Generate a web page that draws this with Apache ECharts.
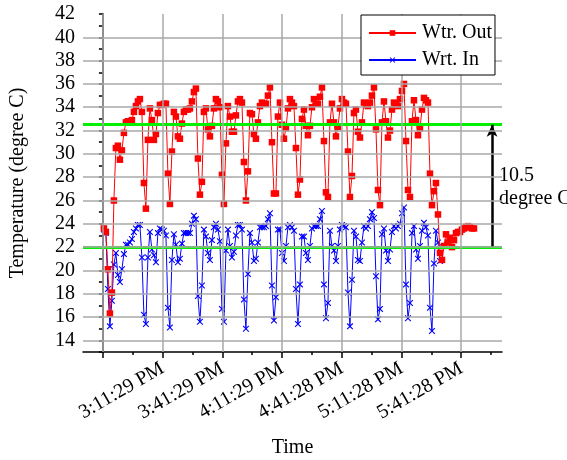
<!DOCTYPE html>
<html>
<head>
<meta charset="utf-8">
<script src="https://cdn.jsdelivr.net/npm/echarts@6/dist/echarts.min.js"></script>
<style>
html,body{margin:0;padding:0;background:#fff;}
#chart{width:567px;height:460px;}
</style>
</head>
<body>
<div id="chart"></div>
<script>
// sample times in minutes after 2:41:29 PM (logger, ~1 min step)
var startMin = 0.5;
var stepMin = 1.005;

var wtrOut = [
  23.6, 23.3, 20.1, 16.3, 18.1, 26.0, 30.5, 30.7, 29.5, 30.3,
  31.8, 32.7, 32.8, 32.8, 32.9, 33.6, 34.1, 34.5, 34.7, 33.6,
  27.5, 25.3, 31.2, 33.9, 32.9, 31.2, 31.7, 33.5, 34.2, 34.2,
  34.3, 34.3, 28.3, 25.7, 30.2, 33.6, 33.2, 31.5, 31.3, 32.6,
  33.6, 33.8, 33.8, 33.9, 34.5, 35.3, 35.6, 29.6, 26.5, 27.6,
  33.6, 33.9, 32.1, 31.5, 32.4, 33.9, 34.7, 34.5, 34.0, 28.2,
  25.7, 30.9, 34.1, 33.2, 31.9, 31.9, 33.3, 34.5, 34.7, 34.4,
  29.3, 26.0, 28.5, 33.5, 33.4, 31.7, 31.3, 32.7, 34.1, 34.4,
  34.3, 34.3, 35.0, 35.7, 31.0, 26.6, 26.6, 33.2, 34.4, 32.5,
  31.3, 32.2, 33.9, 34.7, 34.4, 34.1, 30.5, 26.5, 27.8, 33.0,
  33.8, 32.4, 31.6, 32.4, 34.0, 34.7, 34.3, 34.3, 34.9, 35.7,
  31.1, 26.7, 26.3, 32.7, 34.3, 32.7, 31.5, 32.3, 33.9, 34.7,
  34.4, 34.3, 30.2, 26.3, 28.1, 33.5, 33.8, 31.9, 31.4, 32.7,
  34.4, 34.2, 34.1, 34.4, 35.0, 35.7, 32.1, 26.9, 25.6, 32.7,
  34.5, 32.8, 31.4, 32.0, 33.8, 34.4, 34.3, 34.1, 34.7, 35.4,
  36.0, 31.1, 26.9, 26.3, 32.8, 34.6, 32.9, 31.6, 32.2, 33.8,
  34.8, 34.6, 34.4, 28.3, 25.6, 26.8, 27.5, 24.8, 21.5, 20.9,
  22.1, 23.1, 22.4, 22.8, 22.0, 22.6, 23.2, 23.3, 23.3, 23.5,
  23.6, 23.7, 23.8, 23.7, 23.6, 23.6
];

var wrtIn = [
  23.5, 23.2, 18.4, 15.2, 17.4, 20.5, 21.5, 19.6, 19.0, 20.1,
  21.4, 22.2, 22.2, 22.4, 22.7, 23.3, 23.6, 23.9, 23.9, 21.1,
  16.2, 15.4, 21.1, 23.3, 21.8, 21.3, 20.7, 23.2, 23.6, 23.5,
  23.4, 23.0, 16.8, 15.1, 20.9, 23.1, 22.2, 20.7, 21.0, 22.3,
  23.2, 23.2, 23.2, 23.2, 24.0, 24.7, 24.4, 17.8, 15.6, 18.7,
  23.5, 22.9, 21.5, 20.9, 22.6, 23.7, 24.0, 23.5, 22.5, 16.7,
  15.6, 21.7, 23.5, 22.1, 21.1, 21.6, 23.0, 23.9, 23.9, 23.5,
  17.5, 15.0, 19.7, 23.2, 22.4, 20.8, 21.0, 22.4, 23.7, 23.7,
  23.7, 23.8, 24.4, 24.9, 18.7, 15.7, 17.7, 23.5, 23.5, 21.5,
  20.8, 22.1, 23.7, 23.9, 23.7, 23.4, 18.4, 15.4, 18.8, 22.9,
  22.9, 21.5, 20.9, 22.1, 23.6, 23.8, 23.8, 23.8, 24.4, 25.1,
  18.8, 15.9, 17.2, 23.4, 22.1, 21.7, 20.8, 22.1, 23.5, 23.9,
  23.8, 23.7, 18.1, 15.2, 19.2, 23.4, 22.9, 20.9, 20.8, 22.4,
  23.8, 23.6, 23.8, 24.4, 25.0, 24.5, 19.5, 15.8, 16.7, 23.1,
  23.6, 21.7, 20.8, 21.8, 23.3, 23.8, 23.6, 23.8, 24.0, 24.9,
  25.4, 18.8, 15.9, 17.2, 23.2, 23.8, 21.8, 21.0, 22.1, 23.4,
  24.1, 23.7, 23.0, 16.8, 14.8, 20.6, 23.4, 22.4, 20.8
];

var majorTicks = [0, 30, 60, 90, 120, 150, 180];
var minorTicks = [15, 45, 75, 105, 135, 165, 195];
var tickMinutes = [30, 60, 90, 120, 150, 180];
var tickLabels = ['3:11:29 PM', '3:41:29 PM', '4:11:29 PM', '4:41:28 PM', '5:11:28 PM', '5:41:28 PM'];
var gridY = [14, 16, 18, 20, 22, 24, 26, 28, 30, 32, 34, 36, 38, 40];

var refLines = [32.5, 22];
var arrowAt = 195.5;
var diffText = '10.5\ndegree C';

var font = "'Times New Roman', 'Liberation Serif', serif";

function toPoints(arr) {
  var out = [];
  for (var i = 0; i < arr.length; i++) {
    out.push([startMin + i * stepMin, arr[i]]);
  }
  return out;
}

var gridLines = [];
majorTicks.forEach(function (x) { gridLines.push({ xAxis: x }); });
gridY.forEach(function (y) { gridLines.push({ yAxis: y }); });

var xSymbol = 'path://M0,1.2L1.2,0L5,3.8L8.8,0L10,1.2L6.2,5L10,8.8L8.8,10L5,6.2L1.2,10L0,8.8L3.8,5Z';

var myChart = echarts.init(document.getElementById('chart'));

var option = {
  animation: false,
  grid: { left: 83, right: 65, top: 14, bottom: 108, outerBoundsMode: 'none', containLabel: false },
  legend: {
    data: ['Wtr. Out', 'Wrt. In'],
    orient: 'vertical',
    left: 361,
    top: 15,
    zlevel: 1,
    z: 20,
    padding: [8, 3, 5, 7],
    itemGap: 7,
    itemWidth: 47,
    itemHeight: 7,
    borderColor: '#000',
    borderWidth: 1,
    backgroundColor: '#fff',
    textStyle: { fontFamily: font, fontSize: 20, color: '#000', padding: [0, 0, 0, 1] }
  },
  xAxis: [
    {
      type: 'value',
      min: -10,
      max: 200.5,
      axisLine: { show: true, onZero: false, lineStyle: { color: '#000', width: 1.5 } },
      axisTick: { show: true, customValues: majorTicks, length: 6, lineStyle: { color: '#000', width: 1.5 } },
      axisLabel: {
        customValues: tickMinutes,
        rotate: 30,
        margin: 15,
        fontFamily: font,
        fontSize: 20,
        color: '#000',
        formatter: function (val) {
          var k = tickMinutes.indexOf(val);
          return k >= 0 ? tickLabels[k] : '';
        }
      },
      splitLine: { show: false },
      name: 'Time',
      nameLocation: 'middle',
      nameGap: 86,
      nameTextStyle: { fontFamily: font, fontSize: 20, color: '#000' }
    },
    {
      type: 'value',
      min: -10,
      max: 200.5,
      position: 'bottom',
      axisLine: { show: false },
      axisTick: { show: true, customValues: minorTicks, length: 3, lineStyle: { color: '#000', width: 1.5 } },
      axisLabel: { show: false },
      splitLine: { show: false }
    }
  ],
  yAxis: {
    type: 'value',
    min: 13,
    max: 42,
    interval: 1,
    axisLine: { show: true, lineStyle: { color: '#000', width: 1.5 } },
    axisTick: { show: true, length: 4, lineStyle: { color: '#000', width: 1.5 } },
    axisLabel: {
      fontFamily: font,
      fontSize: 20,
      color: '#000',
      margin: 8,
      formatter: function (val) { return val % 2 === 0 ? String(val) : ''; }
    },
    splitLine: { show: false },
    name: 'Temperature (degree C)',
    nameLocation: 'middle',
    nameGap: 55,
    nameTextStyle: { fontFamily: font, fontSize: 20, color: '#000' }
  },
  series: [
    {
      name: 'Wtr. Out',
      type: 'line',
      z: 4,
      data: toPoints(wtrOut),
      symbol: 'rect',
      symbolSize: 6.5,
      showAllSymbol: true,
      lineStyle: { color: '#ff0000', width: 1 },
      itemStyle: { color: '#ff0000' },
      markLine: {
        silent: true,
        symbol: ['none', 'none'],
        label: { show: false },
        lineStyle: { color: '#00f000', width: 3, type: 'solid' },
        data: refLines.map(function (y) { return { yAxis: y }; })
      }
    },
    {
      name: 'Wrt. In',
      type: 'line',
      z: 3,
      data: toPoints(wrtIn),
      symbol: xSymbol,
      symbolSize: 6.5,
      showAllSymbol: true,
      lineStyle: { color: '#0000ff', width: 1 },
      itemStyle: { color: '#0000ff' },
      markLine: {
        silent: true,
        symbol: ['none', 'arrow'],
        symbolSize: [8, 12],
        label: { show: false },
        lineStyle: { color: '#000', width: 2.5, type: 'solid' },
        data: [[{ coord: [arrowAt, refLines[1]] }, { coord: [arrowAt, refLines[0]] }]]
      }
    },
    {
      name: 'grid',
      type: 'line',
      z: 1,
      data: [],
      markLine: {
        silent: true,
        symbol: ['none', 'none'],
        label: { show: false },
        lineStyle: { color: '#a8a8a8', width: 1.5, type: 'solid' },
        data: gridLines
      }
    }
  ],
  graphic: [
    {
      type: 'text',
      left: 499,
      top: 164,
      style: { text: diffText, font: '20px ' + font, lineHeight: 23, fill: '#000' }
    }
  ]
};

myChart.setOption(option);
</script>
</body>
</html>
